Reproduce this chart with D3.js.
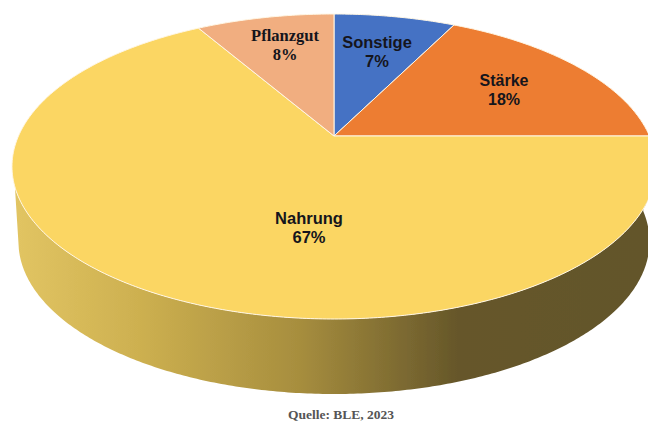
<!DOCTYPE html>
<html>
<head>
<meta charset="utf-8">
<script src="https://cdn.jsdelivr.net/npm/d3@7"></script>
<style>
  html, body { margin: 0; padding: 0; background: #fff; }
  svg { display: block; }
</style>
</head>
<body>
<div id="chart"></div>
<script>
// Shares, clockwise from 12 o'clock; the labels round them
var categories = ["Sonstige", "Stärke", "Nahrung", "Pflanzgut"];
var values = [7.4, 17.6, 66.6, 8.4];
var colors = ["#4472c4", "#ed7d31", "#fbd663", "#f1ae80"];
var source = "Quelle: BLE, 2023";

var w = 648, h = 422;

// Tilted pie: the apex sits above the middle of the ellipse, so a plain
// circle is pushed through a small perspective transform
var apex = {x: 334, y: 136};
var a = 315.5, b = 146.4, k = -0.2;
var depth = {dy: 75, shrink: 0.98};

function project(angle, radius) {
    var u = Math.sin(angle) * radius, v = -Math.cos(angle) * radius;
    var d = 1 + k * v;
    return [apex.x + a * u / d, apex.y + b * v / d];
}
function projectLow(angle) {
    var p = project(angle, 1);
    return [apex.x + (p[0] - apex.x) * depth.shrink, p[1] + depth.dy];
}

var svg = d3.select("#chart").append("svg")
    .attr("width", w)
    .attr("height", h);

var defs = svg.append("defs");
var blur = defs.append("filter").attr("id", "soft");
blur.append("feGaussianBlur").attr("stdDeviation", 0.45);

var grad = defs.append("linearGradient")
    .attr("id", "side")
    .attr("gradientUnits", "userSpaceOnUse")
    .attr("x1", 12).attr("x2", 648).attr("y1", 0).attr("y2", 0);
[[0, "#e2c563"], [0.2, "#cdb050"], [0.45, "#a78e3e"], [0.7, "#66572a"], [1, "#63552a"]]
    .forEach(function(s) {
        grad.append("stop").attr("offset", s[0]).attr("stop-color", s[1]);
    });

var pie = d3.pie().sort(null).value(function(d) { return d; });
var slices = pie(values);
var line = d3.line();
var g = svg.append("g").attr("filter", "url(#soft)");

// Side wall: rim of the big slice down to the left, then back along the lower edge
var nahrung = slices[2];
var rimAngles = d3.range(nahrung.startAngle, 1.5 * Math.PI - 0.33, 0.01);
var lowAngles = d3.range(nahrung.startAngle, 1.5 * Math.PI - 0.25, 0.01);
var sidePts = rimAngles.map(function(t) { return project(t, 1); })
    .concat(lowAngles.reverse().map(projectLow));
g.append("path")
    .attr("d", line(sidePts) + "Z")
    .attr("fill", "url(#side)");

// Top face
g.selectAll("path.slice")
    .data(slices)
    .enter()
    .append("path")
    .attr("class", "slice")
    .attr("d", function(d) {
        var pts = d3.range(d.startAngle, d.endAngle, 0.01)
            .concat([d.endAngle])
            .map(function(t) { return project(t, 1); });
        return line([[apex.x, apex.y]].concat(pts)) + "Z";
    })
    .attr("fill", function(d, i) { return colors[i]; })
    .attr("stroke", "#fff6e4")
    .attr("stroke-width", 1);

// Labels
var labelStyle = [
    {x: 377, y: 48, font: "Liberation Sans", size: 16.5},
    {x: 504, y: 86, font: "Liberation Sans", size: 16},
    {x: 309, y: 224, font: "Liberation Sans", size: 16.5},
    {x: 285, y: 41, font: "Liberation Serif", size: 16.5}
];
var label = svg.selectAll("text.label")
    .data(categories)
    .enter()
    .append("text")
    .attr("class", "label")
    .attr("text-anchor", "middle")
    .attr("font-family", function(d, i) { return labelStyle[i].font; })
    .attr("font-size", function(d, i) { return labelStyle[i].size; })
    .attr("font-weight", "bold")
    .attr("fill", "#15151c");
label.append("tspan")
    .attr("x", function(d, i) { return labelStyle[i].x; })
    .attr("y", function(d, i) { return labelStyle[i].y; })
    .text(function(d) { return d; });
label.append("tspan")
    .attr("x", function(d, i) { return labelStyle[i].x; })
    .attr("y", function(d, i) { return labelStyle[i].y + 19; })
    .text(function(d, i) { return d3.format(".0f")(values[i]) + "%"; });

svg.append("text")
    .attr("x", 341)
    .attr("y", 419)
    .attr("text-anchor", "middle")
    .attr("font-family", "Liberation Serif")
    .attr("font-size", 13.5)
    .attr("font-weight", "bold")
    .attr("fill", "#555")
    .text(source);
</script>
</body>
</html>
